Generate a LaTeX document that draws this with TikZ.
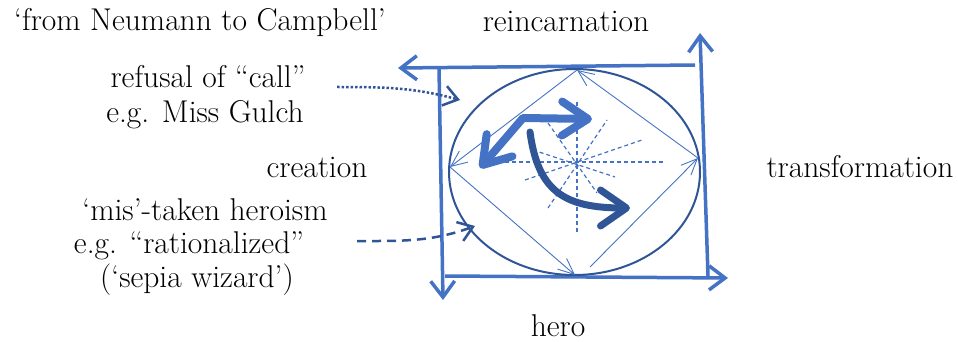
\documentclass[tikz,border=0pt]{standalone}
\usepackage{fontspec}
\usetikzlibrary{ % tikz packages
    arrows.meta,positioning,
    shapes.geometric
}
\definecolor{paleblue}{HTML}{4472C4}
\definecolor{deepblue}{HTML}{2F5597}
\tikzset{
    caption/.style={font=\fontsize{31.5}{34}\selectfont, inner sep=0pt, anchor=base},
    framearrow/.style={draw=paleblue, line width=3.5pt,
        -{Straight Barb[length=16pt,width=24pt]}},
    diamondedge/.style={draw=paleblue, line width=0.9pt,
        -{Straight Barb[length=16pt,width=14pt]}},
    starray/.style={draw=paleblue, line width=1.2pt, dash pattern=on 4pt off 3pt},
    pointer/.style={draw=deepblue, line width=2.5pt,
        -{Straight Barb[length=14pt,width=20pt]}}
}

\begin{document}
\begin{tikzpicture}[x=1pt,y=-1pt]
    \useasboundingbox (0,0) rectangle (958,342);

    % texts
    \node[caption] (title) at (200,31) {‘from Neumann to Campbell’};
    \node[caption] (reinc) at (566,32) {reincarnation};
    \node[caption] (refusal) at (208,88) {refusal of “call”};
    \node[caption] (gulch) at (205,123) {e.g. Miss Gulch};
    \node[caption] (creation) at (317,177) {creation};
    \node[caption] (transf) at (860,177) {transformation};
    \node[caption] (mistaken) at (205,220) {‘mis’-taken heroism};
    \node[caption] (rational) at (189,253) {e.g. “rationalized”};
    \node[caption] (sepia) at (197,287) {(‘sepia wizard’)};
    \node[caption] (hero) at (558,336) {hero};

    % frame of four arrows
    \coordinate (ftr) at (695,65);
    \coordinate (ftl) at (398,68);
    \coordinate (fl) at (439,68);
    \coordinate (fbl) at (443,300);
    \coordinate (fb) at (445,276);
    \coordinate (fbr) at (728,278);
    \coordinate (fr) at (708,276);
    \coordinate (frt) at (700,33);
    \draw[framearrow] (ftr) -- (ftl);
    \draw[framearrow] (fl) -- (fbl);
    \draw[framearrow] (fb) -- (fbr);
    \draw[framearrow] (fr) -- (frt);

    % cycle
    \node[ellipse, draw=deepblue, line width=2pt, inner sep=0pt,
        minimum width=251pt, minimum height=206pt] (cycle) at (574.5,172) {};

    \coordinate (dt) at (577,70);
    \coordinate (dl) at (450,167);
    \coordinate (db) at (575,275);
    \coordinate (db2) at (590,267);
    \coordinate (dr) at (698,158);
    \draw[diamondedge] (dt) -- (dl);
    \draw[diamondedge] (dl) -- (db);
    \draw[diamondedge] (db2) -- (dr);
    \draw[diamondedge] (dr) -- (dt);

    % dashed star
    \coordinate (hub) at (577,162);
    \foreach \ax/\ay/\bx/\by in {-72/0/88/0, -52/18/65/-22, -29/46/30/-42,
            0/-60/0/71, -29/-39/20/31, -44/-12/38/15}
        \draw[starray] ([shift={(\ax,\ay)}]hub) -- ([shift={(\bx,\by)}]hub);

    % bold arrows
    \coordinate (ca) at (480,168);
    \coordinate (cb) at (523,118);
    \coordinate (cc) at (592,119);
    \draw[paleblue, line width=8pt, line join=round,
        {Straight Barb[round,length=26pt,width=34pt]}-{Straight Barb[round,length=26pt,width=34pt]}]
        (ca) -- (cb) -- (cc);
    \coordinate (ta) at (530,132);
    \coordinate (tb) at (630,208);
    \draw[deepblue, line width=7pt, line cap=round,
        -{Straight Barb[round,length=26pt,width=36pt]}]
        (ta) .. controls (538,192) and (565,208) .. (tb);

    % pointers
    \coordinate (refusalfrom) at (337,87);
    \coordinate (refusaltip) at (460,100);
    \coordinate (misfrom) at (357,241);
    \coordinate (mistip) at (475,226);
    \draw[pointer, dash pattern=on 2.5pt off 2pt] (refusalfrom)
        to[out=0, in=165] (refusaltip);
    \draw[pointer, dash pattern=on 9pt off 6pt] (misfrom)
        to[out=0, in=200] (mistip);
\end{tikzpicture}
\end{document}
